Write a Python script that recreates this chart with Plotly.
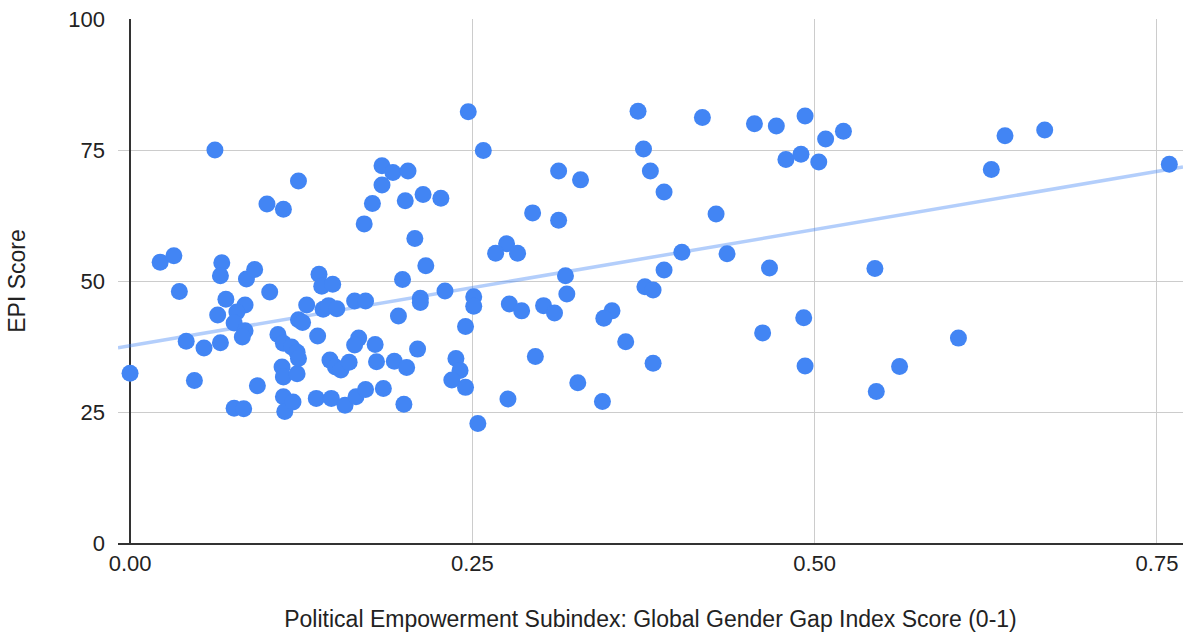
import numpy as np
import plotly.graph_objects as go

# Political Empowerment Subindex score (0-1)
pol_empowerment = [
    0.000, 0.022, 0.032, 0.036, 0.067, 0.066, 0.085, 0.091, 0.102, 0.070,
    0.084, 0.064, 0.078, 0.076, 0.084, 0.082, 0.041, 0.054, 0.066, 0.108,
    0.112, 0.047, 0.093, 0.076, 0.083, 0.111, 0.112, 0.112, 0.113, 0.062,
    0.100, 0.112, 0.123, 0.184, 0.192, 0.203, 0.184, 0.177, 0.201, 0.214,
    0.227, 0.171, 0.208, 0.216, 0.138, 0.140, 0.148, 0.199, 0.129, 0.141,
    0.145, 0.151, 0.164, 0.172, 0.212, 0.212, 0.230, 0.196, 0.123, 0.126,
    0.137, 0.167, 0.164, 0.179, 0.180, 0.193, 0.202, 0.210, 0.146, 0.150,
    0.154, 0.160, 0.122, 0.118, 0.122, 0.123, 0.238, 0.241, 0.235, 0.245,
    0.245, 0.251, 0.251, 0.136, 0.147, 0.157, 0.165, 0.172, 0.185, 0.200,
    0.119, 0.254, 0.247, 0.258, 0.371, 0.418, 0.375, 0.380, 0.390, 0.313,
    0.329, 0.294, 0.313, 0.275, 0.267, 0.283, 0.403, 0.390, 0.318, 0.376,
    0.382, 0.319, 0.277, 0.286, 0.302, 0.310, 0.352, 0.346, 0.362, 0.296,
    0.382, 0.327, 0.276, 0.345, 0.456, 0.472, 0.493, 0.508, 0.521, 0.479,
    0.490, 0.503, 0.629, 0.428, 0.436, 0.467, 0.544, 0.492, 0.462, 0.605,
    0.493, 0.562, 0.545, 0.639, 0.668, 0.759,
]

# EPI score
epi_score = [
    32.4, 53.6, 54.8, 48.0, 53.5, 51.0, 50.4, 52.2, 47.9, 46.5,
    45.4, 43.5, 44.1, 42.0, 40.5, 39.3, 38.5, 37.2, 38.2, 39.8,
    38.1, 31.0, 30.0, 25.7, 25.6, 33.6, 31.7, 27.9, 25.1, 75.0,
    64.7, 63.7, 69.1, 72.0, 70.7, 71.0, 68.3, 64.8, 65.3, 66.5,
    65.8, 60.9, 58.1, 52.9, 51.3, 49.0, 49.4, 50.3, 45.4, 44.6,
    45.3, 44.7, 46.2, 46.2, 46.7, 45.9, 48.1, 43.3, 42.6, 42.1,
    39.5, 39.1, 37.8, 37.9, 34.6, 34.7, 33.5, 37.0, 34.9, 33.6,
    33.0, 34.5, 32.3, 37.4, 36.4, 35.2, 35.2, 32.9, 31.1, 29.7,
    41.3, 47.0, 45.2, 27.6, 27.6, 26.3, 27.9, 29.3, 29.5, 26.5,
    26.9, 22.8, 82.3, 74.9, 82.4, 81.2, 75.2, 71.0, 67.0, 71.0,
    69.3, 63.0, 61.6, 57.1, 55.3, 55.3, 55.5, 52.1, 51.0, 48.9,
    48.3, 47.5, 45.6, 44.3, 45.3, 43.9, 44.3, 42.9, 38.4, 35.6,
    34.3, 30.6, 27.5, 27.0, 80.0, 79.6, 81.5, 77.1, 78.6, 73.2,
    74.2, 72.7, 71.3, 62.8, 55.2, 52.5, 52.4, 43.0, 40.1, 39.1,
    33.8, 33.7, 28.9, 77.7, 78.8, 72.3,
]

x_tick_values = [0, 0.25, 0.5, 0.75]
x_tick_labels = ["0.00", "0.25", "0.50", "0.75"]
y_tick_values = [0, 25, 50, 75, 100]
y_tick_labels = ["0", "25", "50", "75", "100"]

x_title = "Political Empowerment Subindex: Global Gender Gap Index Score (0-1)"
y_title = "EPI Score"

X_RANGE = [-0.0088, 0.769]
Y_RANGE = [0, 100]

# linear trendline (least squares)
slope, intercept = np.polyfit(np.array(pol_empowerment), np.array(epi_score), 1)
trend_x = np.array(X_RANGE)
trend_y = slope * trend_x + intercept

FONT = "Liberation Sans, Arial, Helvetica, sans-serif"

fig = go.Figure()
fig.add_trace(go.Scatter(
    x=trend_x, y=trend_y, mode="lines",
    line=dict(color="rgba(66,133,244,0.4)", width=3.5),
    hoverinfo="skip", showlegend=False,
))
fig.add_trace(go.Scatter(
    x=pol_empowerment, y=epi_score, mode="markers",
    marker=dict(color="#4285F4", size=17, line=dict(width=0)),
    showlegend=False,
))

fig.update_layout(
    width=1188, height=640,
    margin=dict(l=118, r=5, t=19, b=97),
    paper_bgcolor="white", plot_bgcolor="white",
    font=dict(family=FONT, size=22, color="#222222"),
    showlegend=False,
)
fig.update_xaxes(
    range=X_RANGE, tickvals=x_tick_values, ticktext=x_tick_labels,
    showgrid=True, gridcolor="#cccccc", gridwidth=1,
    zeroline=True, zerolinecolor="#333333", zerolinewidth=1.5,
    showline=True, linecolor="#333333", linewidth=1.5,
    ticks="", ticklabelstandoff=0,
    title=dict(text=x_title, standoff=36, font=dict(size=23)),
    tickfont=dict(size=22, color="#222222"),
)
fig.update_yaxes(
    range=Y_RANGE, tickvals=y_tick_values, ticktext=y_tick_labels,
    showgrid=True, gridcolor="#cccccc", gridwidth=1,
    zeroline=False, showline=False,
    ticks="", ticklabelstandoff=12,
    title=dict(text=y_title, standoff=36, font=dict(size=23)),
    tickfont=dict(size=22, color="#222222"),
)

fig.write_html(
    "out.html",
    config={"displayModeBar": False},
    post_script="document.body.style.margin='0px';document.body.style.overflow='hidden';",
)
